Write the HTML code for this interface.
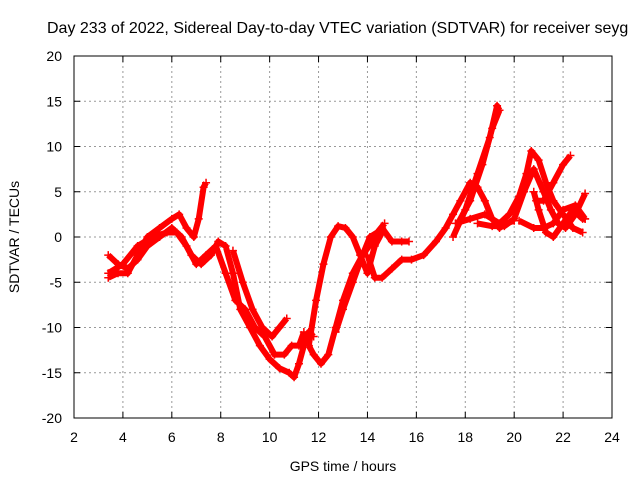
<!DOCTYPE html>
<html><head><meta charset="utf-8"><style>
body{margin:0;background:#fff}
svg text{font-family:"Liberation Sans",sans-serif;font-size:14px;fill:#000}
</style></head><body>
<svg id="c" width="640" height="480" xmlns="http://www.w3.org/2000/svg">
<rect width="640" height="480" fill="#fff"/>
<text x="47" y="33" style="font-size:16px">Day 233 of 2022, Sidereal Day-to-day VTEC variation (SDTVAR) for receiver seyg</text>
<g id="grid"></g><g id="ticks"></g><g id="series"></g>
<rect x="74" y="56" width="538" height="362" fill="none" stroke="#000" stroke-width="1"/>
<text x="343" y="471" text-anchor="middle">GPS time / hours</text>
<text transform="translate(19,237) rotate(-90)" text-anchor="middle">SDTVAR / TECUs</text>
</svg>
<script>
const xTicks=[2,4,6,8,10,12,14,16,18,20,22,24];
const yTicks=[-20,-15,-10,-5,0,5,10,15,20];
const trackA_t=[3.4,3.8,4.2,4.6,5,5.5,6,6.3,6.6,6.9,7.1,7.3,7.4];
const trackA_v=[-4.5,-4,-4,-2,0,1,2,2.5,1,0,2,5.5,6];
const trackB_t=[3.4,3.8,4.2,4.6,5,5.5,6,6.4,6.8,7.2,7.6,7.9,8.2,8.5,8.8,9.2,9.6,10,10.4,10.8,11,11.2,11.4,11.6,11.8];
const trackB_v=[-2,-3,-3.5,-2.5,-1,0,1,0,-2,-3,-2,-0.5,-1,-4,-8,-10,-12,-13.5,-14.5,-15,-15.5,-14,-12,-10.5,-11];
const trackC_t=[3.4,4,4.6,5.2,5.8,6.2,6.6,7,7.4,7.8,8.2,8.6,9,9.4,9.8,10.2,10.6,10.9,11.2,11.4];
const trackC_v=[-4,-3,-1,0,0.5,0.5,-1,-3,-2,-1,-4,-7,-8,-10,-11,-13,-13,-12,-12,-10.5];
const trackC2_t=[8.5,8.9,9.3,9.7,10.1,10.4,10.7];
const trackC2_v=[-1.5,-5,-8,-10,-11,-10,-9];
const trackD_t=[11.6,11.8,12.1,12.4,12.7,13,13.4,13.8,14.2,14.6,15,15.4,15.7];
const trackD_v=[-12,-13,-14,-13,-10,-7,-4,-2,-0.5,1,-0.5,-0.5,-0.5];
const trackE_t=[11.6,11.9,12.2,12.5,12.8,13.1,13.4,13.7,14,14.3,14.6];
const trackE_v=[-12,-7,-3,0,1.2,1,0,-2,-4,-1,0.5];
const trackE2_t=[12.7,13,13.4,13.8,14.1,14.4,14.7];
const trackE2_v=[-10.5,-8,-5,-2,0,0.5,1.5];
const trackF_t=[14,14.3,14.6,15,15.4,15.8,16.3,16.8,17.2,17.5,17.8,18.2,18.5,18.8,19.1,19.4,19.7,20];
const trackF_v=[-2,-4.5,-4.5,-3.5,-2.5,-2.5,-2,-0.5,1,2.5,4,6,5.5,4,2,1,1.5,1.8];
const trackH_t=[17.5,18,18.5,19,19.3,19.4];
const trackH_v=[0,3,7,11,14.5,14];
const trackH2_t=[17.7,18.2,18.7,19.1,19.4];
const trackH2_v=[1.5,4,8,12,14];
const trackI_t=[17.6,18.2,18.8,19.4,19.8,20.2,20.5,20.7,21,21.3,21.6,22,22.4,22.8];
const trackI_v=[1.5,2,2.5,1.5,2.5,4.5,7,9.5,8.5,6,4,2.5,1,0.5];
const trackJ_t=[18.5,19.1,19.6,20,20.4,20.8,21.2,21.5,21.8,22.1,22.5,22.9];
const trackJ_v=[1.5,1.2,1.2,2,5,7.5,5,3,1.5,1,2.5,4.8];
const trackK_t=[20.8,21,21.3,21.6,22,22.4,22.8,22.9];
const trackK_v=[5,3,0.5,0,1.5,3,2,2];
const trackL_t=[20.9,21.2,21.6,22,22.3];
const trackL_v=[4,4,6,8,9];
const trackM_t=[20.2,20.8,21.2,21.6,22,22.5,22.9];
const trackM_v=[1.8,1,1,1.5,3,3.5,2];
const tracks=[[trackA_t,trackA_v],[trackB_t,trackB_v],[trackC_t,trackC_v],[trackC2_t,trackC2_v],[trackD_t,trackD_v],[trackE_t,trackE_v],[trackE2_t,trackE2_v],[trackF_t,trackF_v],[trackH_t,trackH_v],[trackH2_t,trackH2_v],[trackI_t,trackI_v],[trackJ_t,trackJ_v],[trackK_t,trackK_v],[trackL_t,trackL_v],[trackM_t,trackM_v]];
const NS="http://www.w3.org/2000/svg";
const X=t=>74+(t-2)*538/22, Y=v=>237-v*362/40;
function mk(tag,parent){const e=document.createElementNS(NS,tag);parent.appendChild(e);return e;}
const grid=document.getElementById('grid'),ticks=document.getElementById('ticks'),ser=document.getElementById('series');
xTicks.forEach(t=>{const x=X(t);
 if(t>2&&t<24){const l=mk('line',grid);l.setAttribute('x1',x);l.setAttribute('x2',x);l.setAttribute('y1',56);l.setAttribute('y2',418);l.setAttribute('stroke','#999');l.setAttribute('stroke-dasharray','2,3');
 
 }
 const k=mk('path',ticks);k.setAttribute('d',`M${x},418v-6M${x},56v6`);k.setAttribute('stroke','#000');
 
 
 const tx=mk('text',ticks);tx.setAttribute('x',x);tx.setAttribute('y',442);tx.setAttribute('text-anchor','middle');tx.textContent=t;
 
 });
yTicks.forEach(v=>{const y=Y(v);
 if(v>-20&&v<20){const l=mk('line',grid);l.setAttribute('x1',74);l.setAttribute('x2',612);l.setAttribute('y1',y);l.setAttribute('y2',y);l.setAttribute('stroke','#999');l.setAttribute('stroke-dasharray','2,3');
 
 }
 const k=mk('path',ticks);k.setAttribute('d',`M74,${y}h6M612,${y}h-6`);k.setAttribute('stroke','#000');
 
 
 const tx=mk('text',ticks);tx.setAttribute('x',62);tx.setAttribute('y',y+5);tx.setAttribute('text-anchor','end');tx.textContent=v;
 
 });
tracks.forEach(([ts,vs])=>{
 const p=mk('polyline',ser);p.setAttribute('points',ts.map((t,i)=>X(t)+','+Y(vs[i])).join(' '));
 p.setAttribute('fill','none');p.setAttribute('stroke','#f00');p.setAttribute('stroke-width','6');p.setAttribute('stroke-linejoin','round');
 
 
 ts.forEach((t,i)=>{const m=mk('path',ser);const x=X(t),y=Y(vs[i]);
  m.setAttribute('d',`M${x-4},${y}h8M${x},${y-4}v8`);m.setAttribute('stroke','#f00');m.setAttribute('stroke-width','1.5');
  
  });
});
</script>
</body></html>
